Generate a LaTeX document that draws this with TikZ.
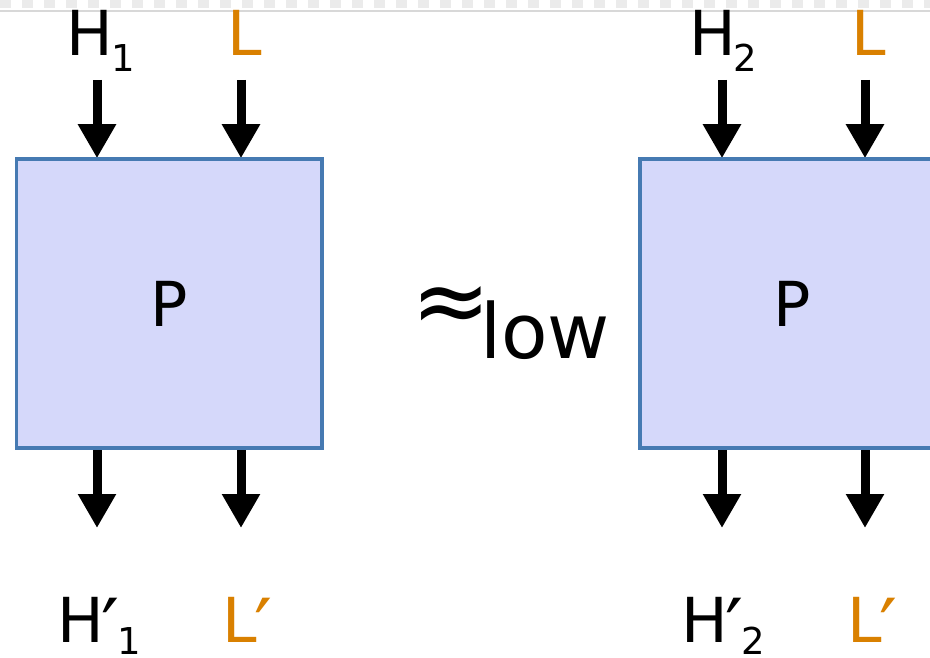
\documentclass[tikz,border=0pt]{standalone}
\usepackage{fontspec}
\setmainfont{DejaVu Sans}
\usetikzlibrary{arrows.meta}

\definecolor{boxfill}{RGB}{213,216,250}
\definecolor{boxline}{RGB}{70,122,178}
\definecolor{lowcol}{RGB}{217,128,0}
\definecolor{checker}{RGB}{235,235,235}
\definecolor{rulegray}{RGB}{216,216,216}

\newcommand{\bigtext}{\fontsize{62}{74}\selectfont}
\newcommand{\subtext}{\fontsize{37}{44}\selectfont}
\newcommand{\primemark}{\raisebox{-14pt}[46pt][0pt]{\fontsize{80}{80}\selectfont ′}}
\newcommand{\lowsub}[2]{\raisebox{-#1}[20pt][0pt]{\subtext #2}}

\tikzset{
  procbox/.style={draw=boxline, fill=boxfill, line width=2.5pt,
    minimum width=304pt, minimum height=288pt, inner sep=0pt, font=\bigtext},
  flow/.style={line width=9pt, -{Triangle[width=36pt,length=34pt]}},
  lbl/.style={anchor=base west, inner sep=0pt, font=\bigtext},
  pub/.style={lbl, text=lowcol},
}

\begin{document}
\begin{tikzpicture}[x=1pt,y=-1pt]
  \useasboundingbox (0,0) rectangle (930,658);

  % checkered strip and rule along the top edge
  \foreach \i in {0,...,42}
    \fill[checker] (\i*22,0) rectangle ++(11,8);
  \draw[rulegray, line width=2pt] (0,11.5) -- (930,11.5);

  % arrow anchor points
  \coordinate (t1) at (97,80);
  \coordinate (t2) at (241,80);
  \coordinate (t3) at (722,80);
  \coordinate (t4) at (865,80);
  \coordinate (b1) at (97,528);
  \coordinate (b2) at (241,528);
  \coordinate (b3) at (722,528);
  \coordinate (b4) at (865,528);

  % the two program boxes
  \path (169,303.5) node[procbox] (P1) {P};
  \path (792.5,303.5) node[procbox] (P2) {P};

  % inputs and outputs
  \draw[flow] (t1) -- (t1 |- P1.north);
  \draw[flow] (t2) -- (t2 |- P1.north);
  \draw[flow] (t3) -- (t3 |- P2.north);
  \draw[flow] (t4) -- (t4 |- P2.north);
  \draw[flow] (b1 |- P1.south) -- (b1);
  \draw[flow] (b2 |- P1.south) -- (b2);
  \draw[flow] (b3 |- P2.south) -- (b3);
  \draw[flow] (b4 |- P2.south) -- (b4);

  % redraw box outlines over the arrow shafts
  \draw[boxline, line width=2.5pt] (P1.north west) rectangle (P1.south east);
  \draw[boxline, line width=2.5pt] (P2.north west) rectangle (P2.south east);

  % labels above
  \node[lbl] (h1) at (66.5,56) {H\kern-2pt\lowsub{16pt}{1}};
  \node[pub] (l1) at (227,56) {L};
  \node[lbl] (h2) at (689,56) {H\kern-2pt\lowsub{16pt}{2}};
  \node[pub] (l2) at (851.7,56) {L};

  % labels below
  \node[lbl] (h1o) at (57,642) {H\kern-2pt\primemark\kern-2pt\lowsub{12pt}{1}};
  \node[pub] (l1o) at (222,642) {L\kern-2pt\primemark};
  \node[lbl] (h2o) at (681,642) {H\kern-2pt\primemark\kern-2pt\lowsub{12pt}{2}};
  \node[pub] (l2o) at (847,642) {L\kern-2pt\primemark};

  % low-equivalence relation
  \node[anchor=base west, inner sep=0pt, font=\fontsize{95}{110}\selectfont] (eq) at (411.5,333) {≈};
  \node[anchor=base west, inner sep=0pt, font=\fontsize{76}{90}\selectfont] (low) at (480,358) {low};
\end{tikzpicture}
\end{document}
